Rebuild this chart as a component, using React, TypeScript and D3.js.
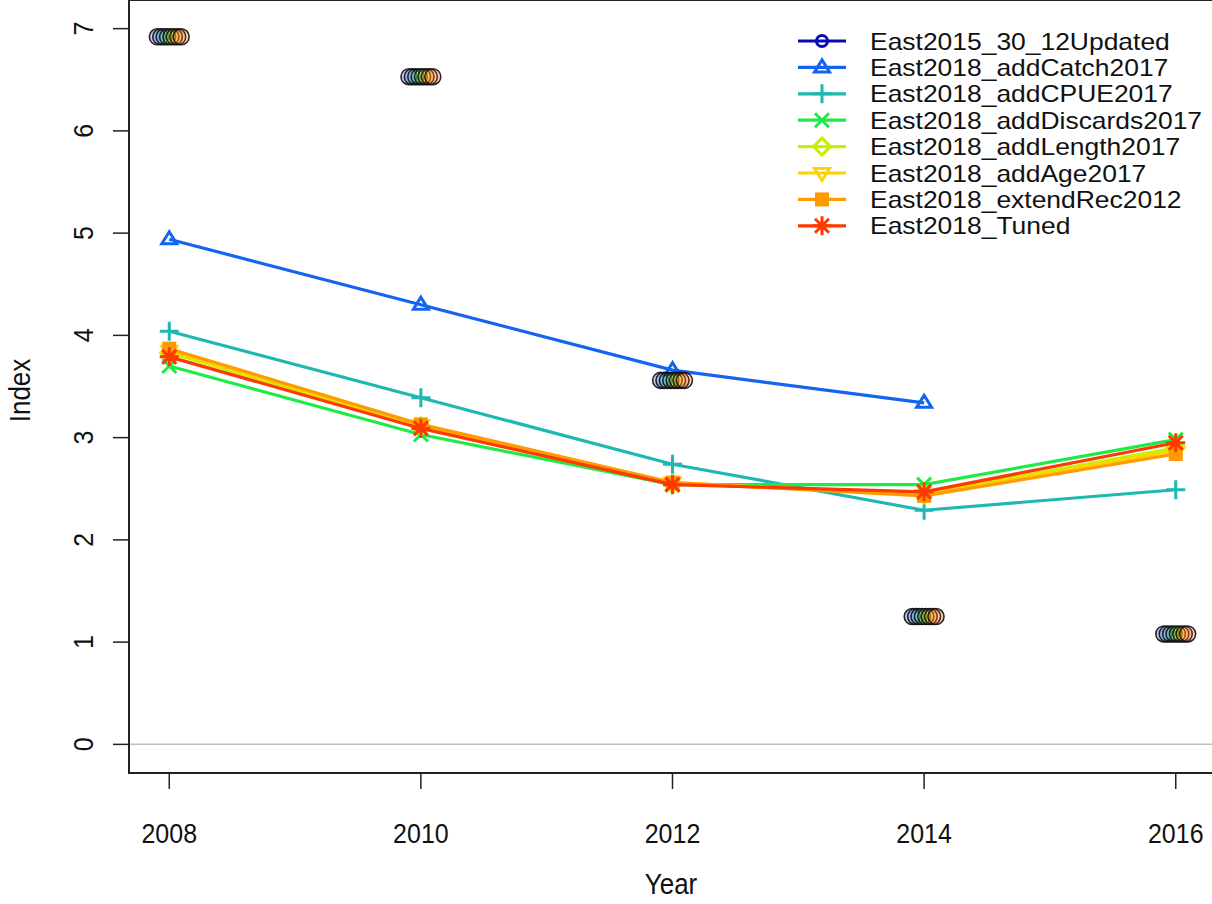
import React from "react";
import * as d3 from "d3";

const years = [2008, 2010, 2012, 2014, 2016];
const observed = [6.92, 6.53, 3.56, 1.25, 1.08];

const modelNames = [
  "East2015_30_12Updated",
  "East2018_addCatch2017",
  "East2018_addCPUE2017",
  "East2018_addDiscards2017",
  "East2018_addLength2017",
  "East2018_addAge2017",
  "East2018_extendRec2012",
  "East2018_Tuned",
];
const modelColors = ["#0A0AB4", "#1464F4", "#1EB8B0", "#1EEB46", "#C8F000", "#FFD200", "#FF9A00", "#FF3A00"];
const modelMarkers = ["circle", "triUp", "plus", "cross", "diamond", "triDown", "square", "star"];

// expected index values per model (null = not available)
const east2015 = [null, null, null, null, null];
const addCatch = [4.94, 4.3, 3.66, 3.34, null];
const addCPUE = [4.04, 3.39, 2.74, 2.29, 2.49];
const addDiscards = [3.7, 3.03, 2.54, 2.54, 2.98];
const addLength = [3.83, 3.11, 2.55, 2.45, 2.9];
const addAge = [3.85, 3.12, 2.56, 2.44, 2.87];
const extendRec = [3.87, 3.13, 2.56, 2.43, 2.84];
const tuned = [3.79, 3.09, 2.54, 2.47, 2.95];
const modelValues = [east2015, addCatch, addCPUE, addDiscards, addLength, addAge, extendRec, tuned];

const yTicks = [0, 1, 2, 3, 4, 5, 6, 7];

const FONT = "'Liberation Sans', Arial, sans-serif";

function Marker({ type, x, y, color }: { type: string; x: number; y: number; color: string }) {
  const s = 7.5;
  const sw = 3;
  switch (type) {
    case "circle":
      return <circle cx={x} cy={y} r={5.5} fill="none" stroke={color} strokeWidth={sw} />;
    case "triUp":
      return (
        <path
          d={`M${x},${y - s} L${x + s},${y + s * 0.6} L${x - s},${y + s * 0.6} Z`}
          fill="none"
          stroke={color}
          strokeWidth={sw}
        />
      );
    case "triDown":
      return (
        <path
          d={`M${x},${y + s} L${x + s},${y - s * 0.6} L${x - s},${y - s * 0.6} Z`}
          fill="none"
          stroke={color}
          strokeWidth={sw}
        />
      );
    case "plus":
      return (
        <path d={`M${x - 9.5},${y} H${x + 9.5} M${x},${y - 9.5} V${y + 9.5}`} stroke={color} strokeWidth={sw} fill="none" />
      );
    case "cross":
      return (
        <path
          d={`M${x - 7},${y - 7} L${x + 7},${y + 7} M${x - 7},${y + 7} L${x + 7},${y - 7}`}
          stroke={color}
          strokeWidth={sw}
          fill="none"
        />
      );
    case "diamond":
      return (
        <path
          d={`M${x},${y - 8.5} L${x + 8.5},${y} L${x},${y + 8.5} L${x - 8.5},${y} Z`}
          fill="none"
          stroke={color}
          strokeWidth={sw}
        />
      );
    case "square":
      return <rect x={x - 7} y={y - 7} width={14} height={14} fill={color} />;
    case "star":
      return (
        <path
          d={`M${x - 9.5},${y} H${x + 9.5} M${x},${y - 9.5} V${y + 9.5} M${x - 7},${y - 7} L${x + 7},${y + 7} M${x - 7},${y + 7} L${x + 7},${y - 7}`}
          stroke={color}
          strokeWidth={sw}
          fill="none"
        />
      );
    default:
      return null;
  }
}

export default function App() {
  const W = 1212;
  const H = 904;
  const left = 129;
  const right = 1216;
  const top = 0;
  const bottom = 773;

  const x = d3.scaleLinear().domain([2007.68, 2016.32]).range([left, right]);
  const y = d3.scaleLinear().domain([-0.28, 7.28]).range([bottom, top]);

  const line = d3
    .line<[number, number | null]>()
    .defined((d) => d[1] !== null)
    .x((d) => x(d[0]))
    .y((d) => y(d[1] as number));

  const nModels = modelNames.length;
  const jitter = 3.4;

  return (
    <svg
      width={W}
      height={H}
      style={{ position: "absolute", left: 0, top: 0, background: "#fff" }}
      fontFamily={FONT}
    >
      <rect x={0} y={0} width={W} height={H} fill="#fff" />
      {/* zero line */}
      <line x1={left} x2={right} y1={y(0)} y2={y(0)} stroke="#c0c0c0" strokeWidth={1.5} />

      {/* model lines */}
      {modelValues.map((vals, mi) => {
        const pts = years.map((yr, i) => [yr, vals[i]] as [number, number | null]);
        return (
          <g key={mi}>
            <path d={line(pts) || ""} fill="none" stroke={modelColors[mi]} strokeWidth={3.2} />
            {pts
              .filter((p) => p[1] !== null)
              .map((p, i) => (
                <Marker key={i} type={modelMarkers[mi]} x={x(p[0])} y={y(p[1] as number)} color={modelColors[mi]} />
              ))}
          </g>
        );
      })}

      {/* observed points, one per model, slightly offset */}
      {modelNames.map((_, mi) =>
        years.map((yr, i) => (
          <circle
            key={`${mi}-${i}`}
            cx={x(yr) + (mi - (nModels - 1) / 2) * jitter}
            cy={y(observed[i])}
            r={8}
            fill={modelColors[mi]}
            fillOpacity={0.22}
            stroke="#111"
            strokeWidth={1.6}
            strokeOpacity={0.9}
          />
        ))
      )}

      {/* axes box */}
      <rect x={left} y={top} width={right - left} height={bottom - top} fill="none" stroke="#222" strokeWidth={2} />

      {/* y axis */}
      {yTicks.map((t) => (
        <g key={t}>
          <line x1={113} x2={left} y1={y(t)} y2={y(t)} stroke="#222" strokeWidth={1.5} />
          <text
            transform={`translate(93,${y(t)}) rotate(-90) scale(1,1.12)`}
            textAnchor="middle"
            fontSize={25}
            fill="#111"
          >
            {t}
          </text>
        </g>
      ))}
      <text transform={`translate(30,${(top + bottom) / 2 + 4}) rotate(-90) scale(1,1.1)`} textAnchor="middle" fontSize={26} fill="#111">
        Index
      </text>

      {/* x axis */}
      {years.map((t) => (
        <g key={t}>
          <line x1={x(t)} x2={x(t)} y1={bottom} y2={789} stroke="#222" strokeWidth={1.5} />
          <text transform={`translate(${x(t)},843) scale(1,1.12)`} textAnchor="middle" fontSize={25} fill="#111">
            {t}
          </text>
        </g>
      ))}
      <text transform={`translate(671,894) scale(1,1.1)`} textAnchor="middle" fontSize={26} fill="#111">
        Year
      </text>

      {/* legend */}
      {modelNames.map((name, mi) => {
        const ly = 41 + mi * 26.4;
        return (
          <g key={name}>
            <line x1={798} x2={846} y1={ly} y2={ly} stroke={modelColors[mi]} strokeWidth={3.2} />
            <Marker type={modelMarkers[mi]} x={822} y={ly} color={modelColors[mi]} />
            <text transform={`translate(870,${ly + 8.5}) scale(1.15,1)`} fontSize={23} fill="#111">
              {name}
            </text>
          </g>
        );
      })}
    </svg>
  );
}
